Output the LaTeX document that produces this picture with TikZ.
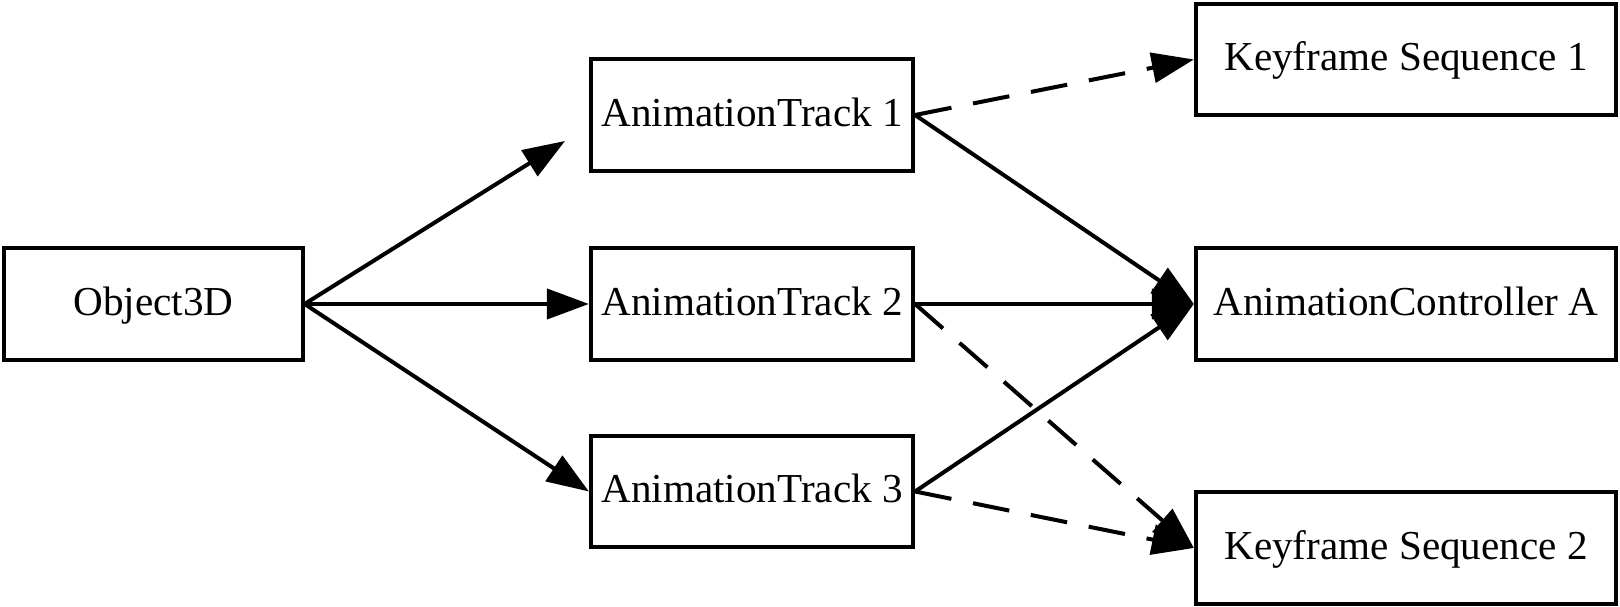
\documentclass[tikz,border=0pt]{standalone}
\usepackage{fontspec}
\setmainfont{Liberation Serif}
\usetikzlibrary{arrows.meta}
\begin{document}
\begin{tikzpicture}[x=0.01cm,y=-0.01cm,
  box/.style={draw,line width=0.04cm,rectangle,inner sep=0pt,minimum height=1.11cm,text height=0.64em,text depth=0pt,font=\fontsize{11.7}{14}\selectfont},
  conn/.style={line width=0.04cm,-{Triangle[length=0.42cm,width=0.3cm]}},
  dconn/.style={conn,dash pattern=on 0.37cm off 0.22cm}]
\useasboundingbox (0,0) rectangle (1620,607);
\node[box,minimum width=2.98cm] (obj) at (153.5,304) {Object3D};
\node[box,minimum width=3.22cm] (t1) at (752,115) {AnimationTrack 1};
\node[box,minimum width=3.22cm] (t2) at (752,304) {AnimationTrack 2};
\node[box,minimum width=3.22cm] (t3) at (752,491.5) {AnimationTrack 3};
\node[box,minimum width=4.2cm] (k1) at (1406,59.5) {Keyframe Sequence 1};
\node[box,minimum width=4.2cm] (ctrl) at (1406,304) {AnimationController A};
\node[box,minimum width=4.2cm] (k2) at (1406,548) {Keyframe Sequence 2};
\coordinate (t1tip) at (565,141);
\draw[conn] (obj.east) -- (t1tip);
\draw[conn] (obj.east) -- (t2.west);
\draw[conn] (obj.east) -- (t3.west);
\draw[dconn] (t1.east) -- (k1.west);
\draw[conn] (t1.east) -- (ctrl.west);
\draw[conn] (t2.east) -- (ctrl.west);
\draw[conn] (t3.east) -- (ctrl.west);
\draw[dconn] (t2.east) -- (k2.west);
\draw[dconn] (t3.east) -- (k2.west);
\end{tikzpicture}
\end{document}
